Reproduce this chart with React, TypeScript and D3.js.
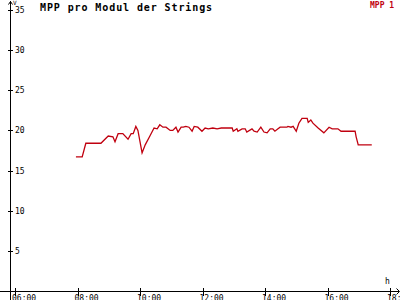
import React from "react";
import * as d3 from "d3";

const times = [
  "07:57","08:09","08:16","08:45","08:59","09:08","09:12","09:18","09:27","09:37",
  "09:43","09:47","09:52","09:56","10:04","10:10","10:19","10:27","10:33","10:38",
  "10:44","10:50","10:58","11:03","11:09","11:13","11:19","11:23","11:28","11:34",
  "11:40","11:44","11:51","11:59","12:05","12:11","12:20","12:28","12:36","12:45",
  "12:57","12:59","13:06","13:08","13:16","13:22","13:25","13:35","13:39","13:45",
  "13:52","13:58","14:04","14:10","14:15","14:19","14:25","14:29","14:42","14:44",
  "14:50","14:54","15:00","15:05","15:11","15:21","15:23","15:28","15:32","15:42",
  "15:53","16:03","16:09","16:20","16:26","16:53","16:55","16:59","17:25"
];
const mpp1 = [
  16.7,16.7,18.4,18.4,19.3,19.2,18.6,19.6,19.6,18.9,
  19.6,19.6,20.5,20.0,17.2,18.2,19.3,20.3,20.2,20.7,
  20.4,20.4,20.0,20.0,20.4,19.8,20.4,20.4,20.5,20.4,
  19.9,20.5,20.4,19.9,20.3,20.2,20.3,20.2,20.3,20.3,
  20.3,19.9,20.2,19.9,20.2,20.2,19.8,20.2,19.9,19.8,
  20.4,19.8,19.7,20.2,20.2,19.9,20.2,20.4,20.4,20.5,
  20.4,20.5,19.9,20.9,21.5,21.5,21.0,21.3,20.9,20.3,
  19.7,20.4,20.2,20.2,19.9,19.9,19.2,18.2,18.2
];
const yTicks = [5, 10, 15, 20, 25, 30, 35];
const xTicks = [6, 8, 10, 12, 14, 16, 18];
const xTickLabels = ["06:00", "08:00", "10:00", "12:00", "14:00", "16:00", "18:"];
const title = "MPP pro Modul der Strings";
const seriesName = "MPP 1";
const yUnit = "V";
const xUnit = "h";

const toHours = (s: string) => {
  const [h, m] = s.split(":").map(Number);
  return h + m / 60;
};

export default function App() {
  const W = 400, H = 300;
  const x = d3.scaleLinear().domain([6, 18]).range([15, 390]);
  const y = d3.scaleLinear().domain([0, 35]).range([291, 10]);
  const data = times.map((t, i) => ({ t: toHours(t), v: mpp1[i] }));
  const line = d3.line<{ t: number; v: number }>().x(d => x(d.t)).y(d => y(d.v));
  const axisX = 10.5;
  const axisY = y(0) + 0.5;
  const font = "'DejaVu Sans Mono', monospace";
  const red = "#c0000f";
  return (
    <svg width={W} height={H} style={{ position: "absolute", left: 0, top: 0, background: "#fff" }}>
      <rect width={W} height={H} fill="#fff" />
      {/* y axis */}
      <g shapeRendering="crispEdges" stroke="#000">
        <line x1={axisX} x2={axisX} y1={1} y2={300} />
        <line x1={0} x2={399} y1={axisY} y2={axisY} />
        {yTicks.map(v => (
          <line key={v} x1={8} x2={13} y1={Math.round(y(v)) + 0.5} y2={Math.round(y(v)) + 0.5} />
        ))}
        {xTicks.map(v => (
          <line key={v} x1={Math.round(x(v)) + 0.5} x2={Math.round(x(v)) + 0.5} y1={288} y2={296} />
        ))}
      </g>
      <path d="M8.5,4.5 L10.5,1.5 L12.5,4.5" fill="none" stroke="#000" />
      <path d="M396.5,288.5 L399.5,291.5 L396.5,294.5" fill="none" stroke="#000" />
      {yTicks.map(v => (
        <text key={v} x={15} y={y(v) + 3} fontFamily={font} fontSize={8} fill="#000">{v}</text>
      ))}
      {xTicks.map((v, i) => (
        <text key={v} x={x(v) - 3} y={300.5} fontFamily={font} fontSize={8} fill="#000">{xTickLabels[i]}</text>
      ))}
      <text x={13} y={5} fontFamily={font} fontSize={6} fill="#000">{yUnit}</text>
      <text x={385} y={284} fontFamily={font} fontSize={8} fill="#000">{xUnit}</text>
      <text x={40} y={11} fontFamily={font} fontSize={10} fontWeight="bold" letterSpacing={0.9} fill="#000">{title}</text>
      <text x={370} y={8} fontFamily={font} fontSize={8} fontWeight="bold" fill={red}>{seriesName}</text>
      <path d={line(data) || ""} fill="none" stroke={red} strokeWidth={1.3} />
    </svg>
  );
}
